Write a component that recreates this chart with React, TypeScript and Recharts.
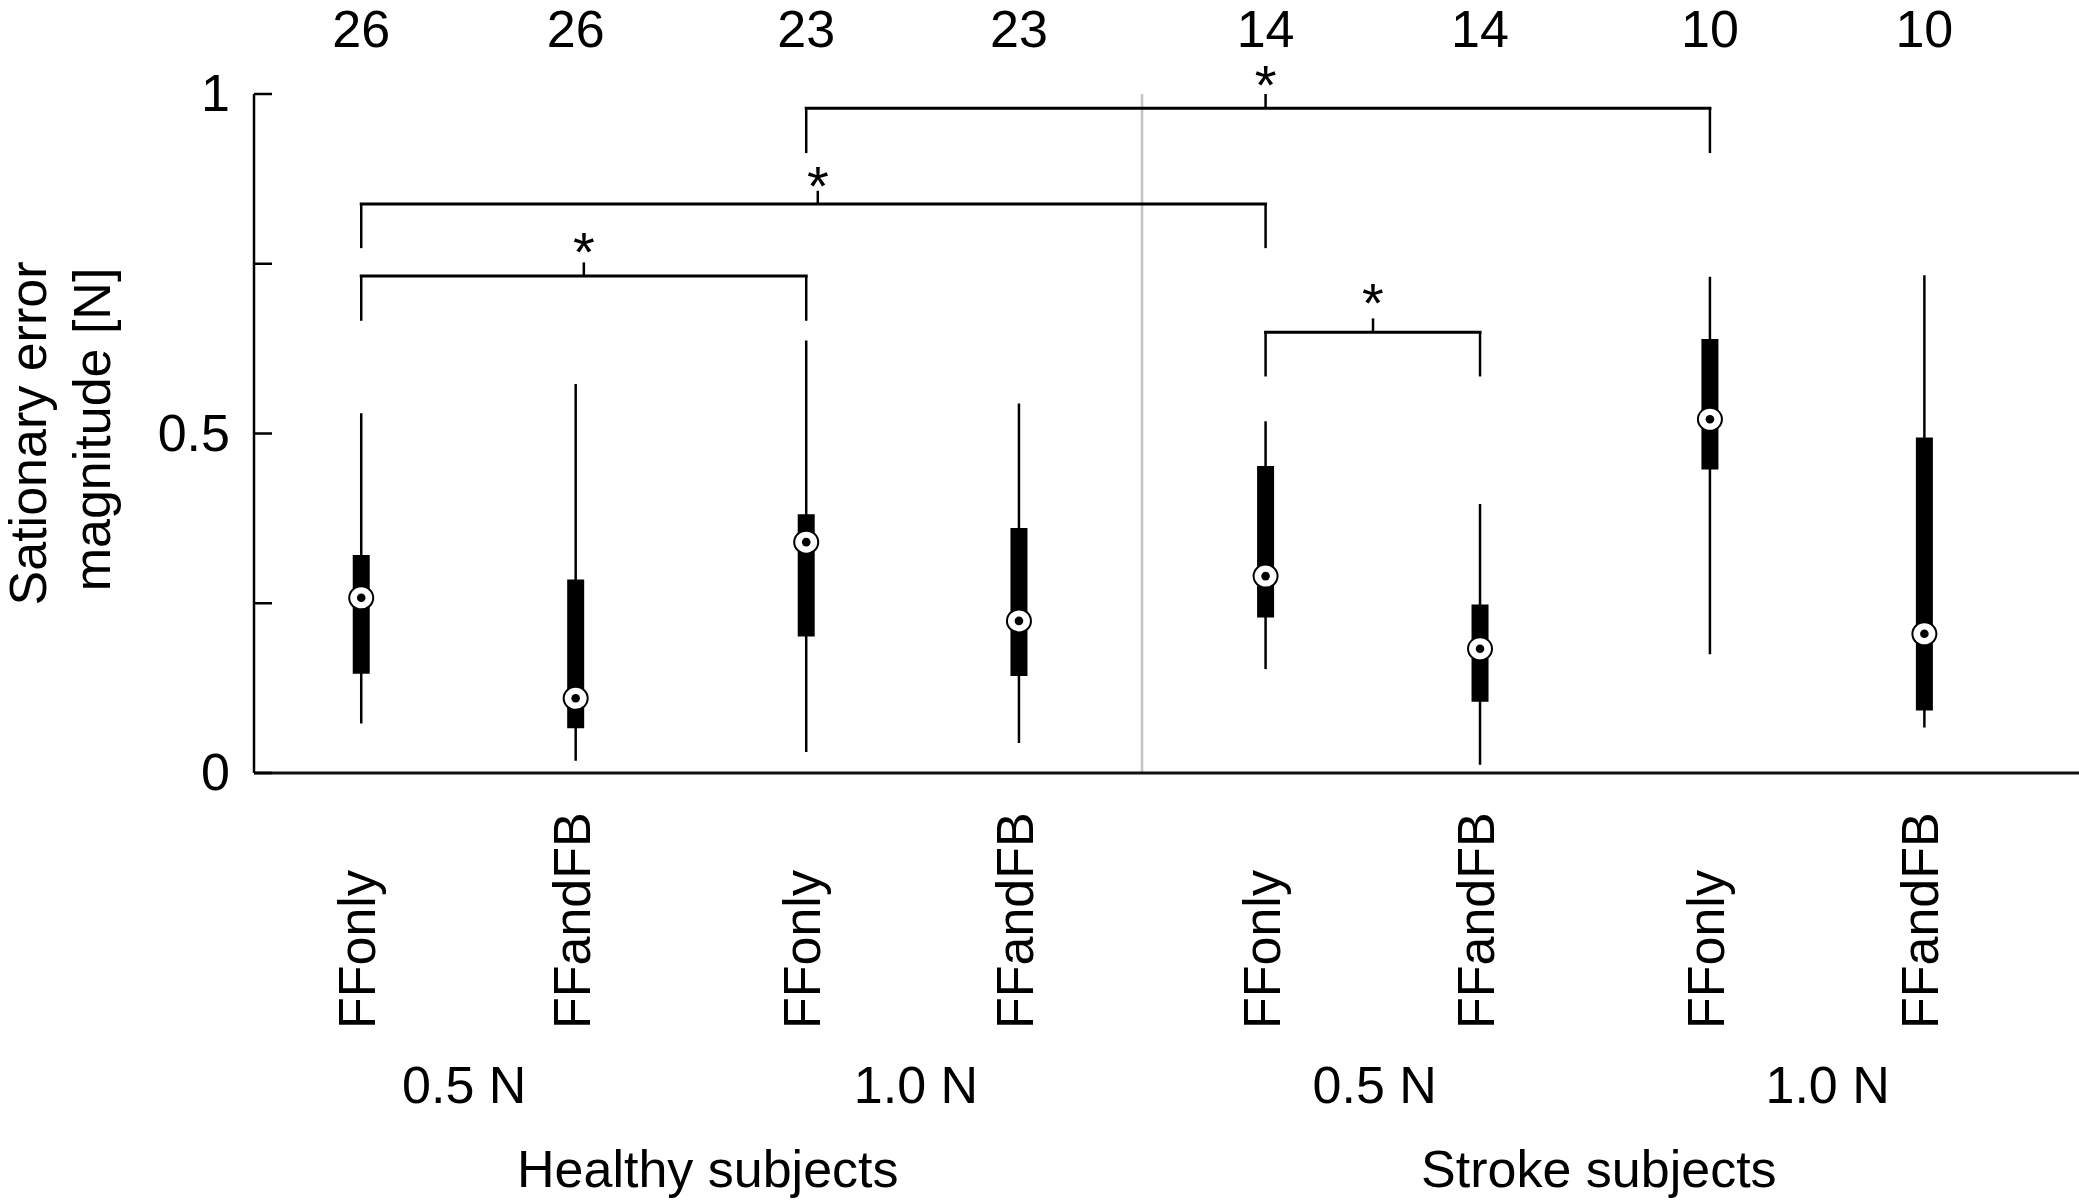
import React from 'react';
import { ComposedChart, XAxis, YAxis, Scatter, ReferenceLine, ReferenceDot } from 'recharts';

// ---- data ----
const conditions = ['FFonly', 'FFandFB', 'FFonly', 'FFandFB', 'FFonly', 'FFandFB', 'FFonly', 'FFandFB'];
const positions = [1, 2, 3.075, 4.067, 5.217, 6.217, 7.289, 8.289];
const sampleSizes = [26, 26, 23, 23, 14, 14, 10, 10];
const whiskerLow = [0.073, 0.018, 0.031, 0.044, 0.153, 0.012, 0.175, 0.067];
const q1 = [0.146, 0.066, 0.201, 0.143, 0.229, 0.105, 0.447, 0.092];
const median = [0.258, 0.110, 0.340, 0.224, 0.290, 0.183, 0.521, 0.205];
const q3 = [0.321, 0.285, 0.381, 0.361, 0.452, 0.248, 0.639, 0.494];
const whiskerHigh = [0.530, 0.573, 0.637, 0.544, 0.518, 0.396, 0.731, 0.733];

const doseLabels = ['0.5 N', '1.0 N', '0.5 N', '1.0 N'];
const dosePositions = [1.48, 3.587, 5.726, 7.838];
const groupLabels = ['Healthy subjects', 'Stroke subjects'];
const groupPositions = [2.616, 6.771];

const yTicks = [0, 0.25, 0.5, 0.75, 1];
const yTickLabels = ['0', '', '0.5', '', '1'];
const dividerPosition = 4.641;

const bracketFrom = [1, 1, 3.075, 5.217];
const bracketTo = [3.075, 5.217, 7.289, 6.217];
const bracketLevel = [0.732, 0.838, 0.979, 0.649];
const bracketLegEnd = [0.666, 0.773, 0.913, 0.584];
const bracketTickX = [2.038, 3.129, 5.217, 5.718];
const bracketTickTop = [0.752, 0.8575, 1.0, 0.6695];
const starY = [0.786, 0.8835, 1.033, 0.711];

// ---- style constants ----
const FONT = 'Liberation Sans, Arial, Helvetica, sans-serif';
const FS = 52;
const X_DOMAIN: [number, number] = [0.5, 9.01];
const MAIN = 'a_cat';
const DOSE = 'b_dose';
const GROUP = 'c_group';
const TOP = 'd_top';

const medianData = positions.map((p, i) => ({ x: p, y: median[i] }));

const CatTick = (props: any) => {
  const { x, y, payload } = props;
  const i = positions.indexOf(payload.value);
  return (
    <text
      transform={`translate(${x}, ${y + 256}) rotate(-90)`}
      dy={14}
      textAnchor="start"
      fontFamily={FONT}
      fontSize={FS}
      fill="#000"
    >
      {conditions[i]}
    </text>
  );
};

const TopTick = (props: any) => {
  const { x, y, payload } = props;
  const i = positions.indexOf(payload.value);
  return (
    <text x={x} y={y - 47} textAnchor="middle" fontFamily={FONT} fontSize={FS} fill="#000">
      {sampleSizes[i]}
    </text>
  );
};

const DoseTick = (props: any) => {
  const { x, y, payload } = props;
  const i = dosePositions.indexOf(payload.value);
  return (
    <text x={x} y={y + 50} textAnchor="middle" fontFamily={FONT} fontSize={FS} fill="#000">
      {doseLabels[i]}
    </text>
  );
};

const GroupTick = (props: any) => {
  const { x, y, payload } = props;
  const i = groupPositions.indexOf(payload.value);
  return (
    <text x={x} y={y + 59} textAnchor="middle" fontFamily={FONT} fontSize={FS} fill="#000">
      {groupLabels[i]}
    </text>
  );
};

const Y_TICK_MARGIN = 24;
const YTick = (props: any) => {
  const { x, y, payload } = props;
  const i = yTicks.indexOf(payload.value);
  const axisX = x + Y_TICK_MARGIN;
  return (
    <g>
      <line x1={axisX} x2={axisX + 18} y1={y} y2={y} stroke="#000" strokeWidth={2.5} />
      <text x={x} y={y} dy={17} textAnchor="end" fontFamily={FONT} fontSize={FS} fill="#000">
        {yTickLabels[i]}
      </text>
    </g>
  );
};

const YLabel = (props: any) => {
  const vb = props.viewBox || { x: 0, y: 94, width: 254, height: 679 };
  const cy = vb.y + vb.height / 2;
  return (
    <g>
      <text
        transform={`translate(${vb.x + 46}, ${cy}) rotate(-90)`}
        textAnchor="middle"
        fontFamily={FONT}
        fontSize={FS}
        fill="#000"
      >
        Sationary error
      </text>
      <text
        transform={`translate(${vb.x + 110}, ${cy - 4}) rotate(-90)`}
        textAnchor="middle"
        fontFamily={FONT}
        fontSize={FS}
        fill="#000"
      >
        magnitude [N]
      </text>
    </g>
  );
};

const MedianMarker = (props: any) => {
  const { cx, cy } = props;
  if (cx == null || cy == null) return null;
  return (
    <g>
      <ellipse cx={cx} cy={cy} rx={12} ry={11.5} fill="#fff" stroke="#000" strokeWidth={2} />
      <circle cx={cx} cy={cy} r={4.3} fill="#000" />
    </g>
  );
};

const Star = (props: any) => {
  const { cx, cy } = props;
  if (cx == null || cy == null) return null;
  return (
    <text x={cx} y={cy} dy={32} textAnchor="middle" fontFamily={FONT} fontSize={56} fill="#000">
      *
    </text>
  );
};

export default function App() {
  return (
    <div style={{ position: 'absolute', left: 0, top: 0, width: 2079, height: 1200, background: '#fff' }}>
      <ComposedChart width={2079} height={1200} margin={{ top: 0, right: 0, bottom: 0, left: 0 }}>
        <XAxis
          xAxisId={MAIN}
          dataKey="x"
          type="number"
          domain={X_DOMAIN}
          allowDataOverflow
          ticks={positions}
          interval={0}
          orientation="bottom"
          height={280}
          tickLine={false}
          tickSize={0}
          tickMargin={0}
          axisLine={{ stroke: '#111', strokeWidth: 3 }}
          tick={CatTick}
        />
        <XAxis
          xAxisId={DOSE}
          dataKey="x"
          type="number"
          domain={X_DOMAIN}
          allowDataOverflow
          ticks={dosePositions}
          interval={0}
          orientation="bottom"
          height={75}
          tickLine={false}
          tickSize={0}
          tickMargin={0}
          axisLine={false}
          tick={DoseTick}
        />
        <XAxis
          xAxisId={GROUP}
          dataKey="x"
          type="number"
          domain={X_DOMAIN}
          allowDataOverflow
          ticks={groupPositions}
          interval={0}
          orientation="bottom"
          height={72}
          tickLine={false}
          tickSize={0}
          tickMargin={0}
          axisLine={false}
          tick={GroupTick}
        />
        <XAxis
          xAxisId={TOP}
          dataKey="x"
          type="number"
          domain={X_DOMAIN}
          allowDataOverflow
          ticks={positions}
          interval={0}
          orientation="top"
          height={94}
          tickLine={false}
          tickSize={0}
          tickMargin={0}
          axisLine={false}
          tick={TopTick}
        />
        <YAxis
          type="number"
          domain={[0, 1]}
          allowDataOverflow
          ticks={yTicks}
          interval={0}
          width={254}
          tickLine={false}
          tickSize={0}
          tickMargin={Y_TICK_MARGIN}
          axisLine={{ stroke: '#000', strokeWidth: 2.5 }}
          tick={YTick}
          label={{ content: (p: any) => <YLabel {...p} /> }}
        />

        <ReferenceLine
          xAxisId={MAIN}
          segment={[{ x: dividerPosition, y: 0 }, { x: dividerPosition, y: 1 }]}
          stroke="#c4c4c4"
          strokeWidth={2.5}
          ifOverflow="visible"
        />

        {positions.map((p, i) => (
          <ReferenceLine
            key={`wh${i}`}
            xAxisId={MAIN}
            segment={[{ x: p, y: whiskerLow[i] }, { x: p, y: whiskerHigh[i] }]}
            stroke="#000"
            strokeWidth={2.5}
            ifOverflow="visible"
          />
        ))}
        {positions.map((p, i) => (
          <ReferenceLine
            key={`bx${i}`}
            xAxisId={MAIN}
            segment={[{ x: p, y: q1[i] }, { x: p, y: q3[i] }]}
            stroke="#000"
            strokeWidth={17}
            ifOverflow="visible"
          />
        ))}

        {bracketFrom.map((f, i) => (
          <ReferenceLine
            key={`bh${i}`}
            xAxisId={MAIN}
            segment={[{ x: f, y: bracketLevel[i] }, { x: bracketTo[i], y: bracketLevel[i] }]}
            stroke="#000"
            strokeWidth={3}
            strokeLinecap="square"
            ifOverflow="visible"
          />
        ))}
        {bracketFrom.map((f, i) => (
          <ReferenceLine
            key={`bl${i}`}
            xAxisId={MAIN}
            segment={[{ x: f, y: bracketLevel[i] }, { x: f, y: bracketLegEnd[i] }]}
            stroke="#000"
            strokeWidth={2.5}
            ifOverflow="visible"
          />
        ))}
        {bracketTo.map((t, i) => (
          <ReferenceLine
            key={`br${i}`}
            xAxisId={MAIN}
            segment={[{ x: t, y: bracketLevel[i] }, { x: t, y: bracketLegEnd[i] }]}
            stroke="#000"
            strokeWidth={2.5}
            ifOverflow="visible"
          />
        ))}
        {bracketTickX.map((t, i) => (
          <ReferenceLine
            key={`bt${i}`}
            xAxisId={MAIN}
            segment={[{ x: t, y: bracketLevel[i] }, { x: t, y: bracketTickTop[i] }]}
            stroke="#000"
            strokeWidth={2.5}
            ifOverflow="visible"
          />
        ))}
        {bracketTickX.map((t, i) => (
          <ReferenceDot
            key={`st${i}`}
            xAxisId={MAIN}
            x={t}
            y={starY[i]}
            r={0}
            ifOverflow="visible"
            shape={(p: any) => <Star {...p} />}
          />
        ))}

        <Scatter
          xAxisId={MAIN}
          data={medianData}
          dataKey="y"
          isAnimationActive={false}
          shape={(p: any) => <MedianMarker {...p} />}
        />
      </ComposedChart>
    </div>
  );
}
